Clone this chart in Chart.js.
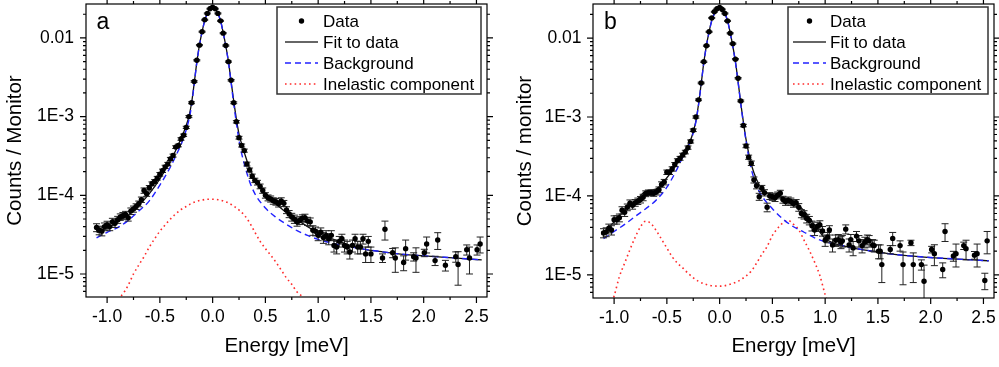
<!DOCTYPE html>
<html>
<head>
<meta charset="utf-8">
<script src="https://cdn.jsdelivr.net/npm/chart.js@4.4.1/dist/chart.umd.min.js"></script>
<style>
  html, body { margin: 0; padding: 0; background: #fff; }
  #wrap { position: relative; width: 999px; height: 367px; overflow: hidden; }
  canvas { position: absolute; top: 0; }
  #chartA { left: 0; }
  #chartB { left: 500px; }
</style>
</head>
<body>
<div id="wrap">
  <canvas id="chartA" width="500" height="367"></canvas>
  <canvas id="chartB" width="499" height="367"></canvas>
</div>
<script>
// axis ticks and labels
const xTicks = [-1.0, -0.5, 0.0, 0.5, 1.0, 1.5, 2.0, 2.5];
const xMinorTicks = [-0.75, -0.25, 0.25, 0.75, 1.25, 1.75, 2.25];
const yTicks = [1e-5, 1e-4, 1e-3, 1e-2];
const yTickLabels = ["1E-5", "1E-4", "1E-3", "0.01"];
const legendLabels = ["Data", "Fit to data", "Background", "Inelastic component"];

// panel a : measured points (energy in meV, counts / monitor, error)
const energyA = [
  -1.1,-1.075,-1.05,-1.025,-1.0,-0.975,-0.95,-0.925,-0.9,
  -0.875,-0.85,-0.825,-0.8,-0.775,-0.75,-0.725,-0.7,
  -0.675,-0.65,-0.625,-0.6,-0.575,-0.55,-0.525,-0.5,
  -0.475,-0.45,-0.425,-0.4,-0.375,-0.35,-0.325,-0.3,
  -0.275,-0.25,-0.225,-0.2,-0.175,-0.15,-0.125,-0.1,
  -0.075,-0.05,-0.025,0,0.025,0.05,0.075,0.1,
  0.125,0.15,0.175,0.2,0.225,0.25,0.275,0.3,
  0.325,0.35,0.375,0.4,0.425,0.45,0.475,0.5,
  0.525,0.55,0.575,0.6,0.625,0.65,0.675,0.7,
  0.725,0.75,0.775,0.8,0.825,0.85,0.875,0.9,
  0.925,0.95,0.975,1.0,1.025,1.05,1.075,1.1,
  1.125,1.15,1.175,1.2,1.225,1.25,1.275,1.3,
  1.325,1.35,1.375,1.4,1.425,1.45,1.475,1.5,
  1.61,1.633,1.706,1.731,1.81,1.829,1.905,1.927,2.006,2.028,
  2.108,2.133,2.206,2.304,2.326,2.408,2.434,2.506,2.535
];
const countsA = [
  3.9e-5,3.6e-5,3.5e-5,4.0e-5,4.2e-5,4.0e-5,4.6e-5,4.4e-5,4.9e-5,
  5.3e-5,5.5e-5,5.7e-5,5.2e-5,6.3e-5,6.7e-5,7.2e-5,7.8e-5,
  8.8e-5,1.15e-4,1.05e-4,1.25e-4,1.4e-4,1.5e-4,1.65e-4,1.85e-4,
  2.05e-4,2.3e-4,2.5e-4,2.9e-4,3.2e-4,4.1e-4,4.3e-4,5.2e-4,
  5.8e-4,7.3e-4,1.0e-3,1.5e-3,2.8e-3,5.2e-3,8.1e-3,1.2e-2,
  1.7e-2,2.05e-2,2.35e-2,2.45e-2,2.35e-2,2.05e-2,1.65e-2,1.15e-2,
  8.0e-3,5.0e-3,2.9e-3,1.5e-3,8.6e-4,5.4e-4,4.3e-4,3.7e-4,
  2.5e-4,2.1e-4,1.75e-4,1.55e-4,1.45e-4,1.3e-4,1.15e-4,1.0e-4,
  9.3e-5,9.0e-5,8.5e-5,8.3e-5,7.8e-5,8.5e-5,7.9e-5,6.5e-5,
  5.8e-5,5.3e-5,5.0e-5,4.6e-5,4.8e-5,5.1e-5,5.2e-5,4.7e-5,
  4.6e-5,3.6e-5,3.5e-5,3.1e-5,3.4e-5,2.9e-5,3.1e-5,2.8e-5,
  3.1e-5,2.3e-5,2.2e-5,2.6e-5,2.8e-5,2.3e-5,2.2e-5,1.9e-5,
  2.3e-5,2.8e-5,2.2e-5,2.2e-5,2.8e-5,1.8e-5,2.6e-5,1.8e-5,
  1.6e-5,3.7e-5,1.86e-5,1.6e-5,1.4e-5,2.1e-5,1.66e-5,1.6e-5,1.86e-5,2.4e-5,
  1.48e-5,2.7e-5,1.29e-5,1.66e-5,1.32e-5,2.04e-5,1.6e-5,2.04e-5,2.4e-5
];
const errA = [
  4.5e-6,4.5e-6,4.5e-6,4.5e-6,4.8e-6,4.5e-6,5e-6,5e-6,5e-6,
  5e-6,5.5e-6,5.5e-6,5e-6,6e-6,6e-6,6e-6,6.5e-6,
  7e-6,9e-6,8e-6,8e-6,8e-6,8e-6,9e-6,1e-5,
  1e-5,1.1e-5,1.2e-5,1.3e-5,1.4e-5,1.6e-5,1.7e-5,1.9e-5,
  2e-5,2.4e-5,3e-5,4e-5,6e-5,9e-5,1.3e-4,1.8e-4,
  2.5e-4,3e-4,3.2e-4,3.3e-4,3.2e-4,3e-4,2.5e-4,1.8e-4,
  1.3e-4,9e-5,6e-5,4e-5,3e-5,2.2e-5,1.9e-5,1.7e-5,
  1.4e-5,1.2e-5,1.1e-5,1e-5,1e-5,9e-6,9e-6,8e-6,
  8e-6,8e-6,8e-6,8e-6,7e-6,8e-6,7e-6,6.5e-6,
  6e-6,6e-6,6e-6,5.5e-6,5.5e-6,5.5e-6,5.5e-6,5.5e-6,
  5.5e-6,5e-6,4.5e-6,4.5e-6,4.5e-6,4.5e-6,4.5e-6,4.5e-6,
  4.5e-6,4e-6,4e-6,4e-6,4e-6,4e-6,4e-6,3.5e-6,
  4e-6,4e-6,4e-6,4e-6,4e-6,4e-6,4e-6,4e-6,
  2e-6,1e-5,2.5e-6,5.5e-6,3e-6,6e-6,2e-6,5.5e-6,2e-6,5.5e-6,
  2e-6,6.5e-6,2e-6,2.5e-6,6e-6,3e-6,6e-6,3e-6,5.5e-6
];

// panel b : measured points
const energyB = [
  -1.1,-1.075,-1.05,-1.025,-1.0,-0.975,-0.95,-0.925,-0.9,
  -0.875,-0.85,-0.825,-0.8,-0.775,-0.75,-0.725,-0.7,
  -0.675,-0.65,-0.625,-0.6,-0.575,-0.55,-0.525,-0.5,
  -0.475,-0.45,-0.425,-0.4,-0.375,-0.35,-0.325,-0.3,
  -0.275,-0.25,-0.225,-0.2,-0.175,-0.15,-0.125,-0.1,
  -0.075,-0.05,-0.025,0,0.025,0.05,0.075,0.1,
  0.125,0.15,0.175,0.2,0.225,0.25,0.275,0.3,
  0.325,0.35,0.375,0.4,0.425,0.45,0.475,0.5,
  0.525,0.55,0.575,0.6,0.625,0.65,0.675,0.7,
  0.725,0.75,0.775,0.8,0.825,0.85,0.875,0.9,
  0.925,0.95,0.975,1.0,
  1.025,1.04,1.07,1.1,1.125,1.15,1.163,1.195,1.227,1.243,1.265,
  1.297,1.32,1.35,1.376,1.4,1.417,1.45,1.465,1.506,1.522,1.537,
  1.617,1.64,1.71,1.738,1.813,1.835,1.912,1.937,2.009,2.035,
  2.114,2.136,2.215,2.24,2.313,2.335,2.415,2.44,2.513,2.535
];
const countsB = [
  3.4e-5,3.5e-5,3.9e-5,3.7e-5,5.0e-5,5.0e-5,5.3e-5,6.6e-5,6.2e-5,
  7.2e-5,8.1e-5,7.6e-5,8.2e-5,8.6e-5,9.0e-5,9.6e-5,1.07e-4,
  1.1e-4,1.1e-4,1.08e-4,1.12e-4,1.2e-4,1.4e-4,1.5e-4,2.0e-4,
  2.0e-4,2.2e-4,2.5e-4,2.8e-4,3.0e-4,3.3e-4,3.6e-4,4.1e-4,
  4.9e-4,6.8e-4,1.0e-3,1.65e-3,2.7e-3,5.0e-3,8.0e-3,1.2e-2,
  1.8e-2,2.15e-2,2.35e-2,2.45e-2,2.3e-2,2.05e-2,1.65e-2,1.15e-2,
  8.5e-3,5.4e-3,3.1e-3,1.6e-3,7.8e-4,4.3e-4,3.1e-4,2.6e-4,
  1.6e-4,1.35e-4,9.8e-5,1.25e-4,1.1e-4,7.2e-5,1.0e-4,9.8e-5,
  9.5e-5,1.02e-4,1.08e-4,9.0e-5,8.5e-5,8.8e-5,8.5e-5,8.0e-5,
  8.2e-5,7.2e-5,6.0e-5,5.8e-5,5.2e-5,4.9e-5,4.2e-5,3.7e-5,
  4.1e-5,4.3e-5,3.6e-5,2.75e-5,
  3.0e-5,3.7e-5,2.4e-5,2.75e-5,2.8e-5,2.6e-5,2.7e-5,3.8e-5,2.4e-5,2.8e-5,2.2e-5,
  3.1e-5,2.7e-5,2.35e-5,2.6e-5,2.8e-5,2.7e-5,2.4e-5,2.35e-5,2.0e-5,2.0e-5,1.35e-5,
  2.1e-5,2.9e-5,2.35e-5,1.35e-5,2.55e-5,1.35e-5,1.35e-5,8.3e-6,2.1e-5,1.86e-5,
  1.17e-5,3.55e-5,1.74e-5,1.86e-5,2.35e-5,2.15e-5,1.78e-5,1.86e-5,8.5e-6,2.7e-5
];
const errB = [
  4.5e-6,4.5e-6,5e-6,5e-6,6e-6,6e-6,6e-6,7e-6,7e-6,
  7e-6,8e-6,8e-6,8e-6,8e-6,8.5e-6,9e-6,9e-6,
  9e-6,9e-6,9e-6,9e-6,1e-5,1.1e-5,1.2e-5,1.3e-5,
  1.3e-5,1.4e-5,1.5e-5,1.6e-5,1.7e-5,1.8e-5,1.9e-5,2e-5,
  2.2e-5,2.6e-5,3.2e-5,4e-5,6e-5,9e-5,1.3e-4,1.8e-4,
  2.5e-4,3e-4,3.2e-4,3.3e-4,3.2e-4,3e-4,2.5e-4,1.8e-4,
  1.3e-4,9e-5,6e-5,4e-5,2.8e-5,2.2e-5,1.9e-5,1.7e-5,
  1.4e-5,1.2e-5,1e-5,1.1e-5,1e-5,9e-6,1e-5,1e-5,
  1e-5,1e-5,1e-5,9e-6,9e-6,9e-6,9e-6,8e-6,
  8e-6,8e-6,7e-6,7e-6,6.5e-6,6e-6,6e-6,5.5e-6,
  5.5e-6,5.5e-6,5e-6,4.5e-6,
  4.5e-6,5e-6,4.5e-6,4.5e-6,4.5e-6,4.5e-6,4.5e-6,5e-6,4.5e-6,4.5e-6,4.5e-6,
  4.5e-6,4.5e-6,4.5e-6,4e-6,4e-6,4.5e-6,4e-6,4e-6,4e-6,4e-6,5.5e-6,
  2.5e-6,5.5e-6,3.5e-6,6e-6,2e-6,5.5e-6,2e-6,5e-6,2e-6,5.5e-6,
  2.5e-6,9e-6,2.5e-6,6e-6,2.5e-6,6e-6,2e-6,6e-6,2e-6,8.5e-6
];

// fitted curves
const curveE = [-1.1,-1.0,-0.9,-0.8,-0.7,-0.6,-0.5,-0.4,-0.35,-0.3,-0.275,-0.25,-0.225,-0.2,-0.175,
  -0.15,-0.125,-0.1,-0.075,-0.05,-0.025,0,0.025,0.05,0.075,0.1,0.125,0.15,0.175,0.2,0.225,0.25,
  0.275,0.3,0.35,0.4,0.5,0.6,0.7,0.8,0.9,1.0,1.2,1.4,1.6,1.8,2.0,2.2,2.4,2.55];
const fitA = [3.39e-5,3.8e-5,4.57e-5,5.62e-5,7.41e-5,1.05e-4,1.62e-4,2.75e-4,3.72e-4,5.25e-4,6.3e-4,7.76e-4,1.0e-3,1.48e-3,2.63e-3,
  4.9e-3,8.1e-3,1.2e-2,1.66e-2,2.04e-2,2.32e-2,2.43e-2,2.32e-2,2.04e-2,1.66e-2,1.17e-2,7.9e-3,5.0e-3,2.8e-3,1.58e-3,9.3e-4,6.0e-4,
  4.5e-4,3.5e-4,2.2e-4,1.58e-4,1.05e-4,7.8e-5,6.0e-5,4.9e-5,4.0e-5,3.3e-5,2.6e-5,2.1e-5,1.92e-5,1.78e-5,1.7e-5,1.63e-5,1.56e-5,1.51e-5];
const bgA = [2.88e-5,3.39e-5,3.89e-5,4.79e-5,6.3e-5,8.5e-5,1.35e-4,2.29e-4,3.16e-4,4.37e-4,5.4e-4,6.8e-4,9.1e-4,1.38e-3,2.57e-3,
  4.85e-3,8.0e-3,1.19e-2,1.65e-2,2.03e-2,2.31e-2,2.42e-2,2.31e-2,2.03e-2,1.65e-2,1.16e-2,7.8e-3,4.9e-3,2.7e-3,1.45e-3,8.3e-4,5.0e-4,
  3.4e-4,2.5e-4,1.5e-4,1.05e-4,6.9e-5,5.25e-5,4.27e-5,3.55e-5,3.09e-5,2.75e-5,2.35e-5,2.1e-5,1.92e-5,1.78e-5,1.7e-5,1.63e-5,1.56e-5,1.51e-5];
const fitB = [3.4e-5,4.7e-5,6.6e-5,8.5e-5,1.15e-4,1.23e-4,1.7e-4,2.63e-4,3.4e-4,4.37e-4,5.1e-4,6.5e-4,8.9e-4,1.45e-3,2.63e-3,
  4.9e-3,8.1e-3,1.2e-2,1.66e-2,2.04e-2,2.32e-2,2.43e-2,2.32e-2,2.04e-2,1.66e-2,1.17e-2,7.9e-3,5.0e-3,2.8e-3,1.5e-3,8.7e-4,5.2e-4,
  3.5e-4,2.5e-4,1.62e-4,1.23e-4,1.02e-4,9.5e-5,8.5e-5,6.5e-5,4.3e-5,2.9e-5,2.29e-5,2.04e-5,1.86e-5,1.74e-5,1.66e-5,1.6e-5,1.55e-5,1.51e-5];
const bgB = [2.88e-5,3.55e-5,4.37e-5,5.5e-5,6.9e-5,8.9e-5,1.29e-4,2.24e-4,3.1e-4,4.17e-4,5.0e-4,6.3e-4,8.7e-4,1.41e-3,2.6e-3,
  4.85e-3,8.0e-3,1.19e-2,1.65e-2,2.03e-2,2.31e-2,2.42e-2,2.31e-2,2.03e-2,1.65e-2,1.16e-2,7.8e-3,4.9e-3,2.75e-3,1.48e-3,8.3e-4,5.0e-4,
  3.16e-4,2.19e-4,1.35e-4,1.0e-4,6.9e-5,5.1e-5,4.07e-5,3.47e-5,2.95e-5,2.63e-5,2.29e-5,2.04e-5,1.86e-5,1.74e-5,1.66e-5,1.6e-5,1.55e-5,1.51e-5];

const inelEA = [-0.9,-0.85,-0.8,-0.75,-0.7,-0.65,-0.6,-0.55,-0.5,-0.45,-0.4,-0.35,-0.3,-0.25,-0.2,-0.15,-0.1,-0.05,0,
  0.05,0.1,0.15,0.2,0.25,0.3,0.35,0.4,0.45,0.5,0.55,0.6,0.65,0.7,0.75,0.8,0.85,0.9];
const inelA = [4.8e-6,5.6e-6,7.2e-6,1.0e-5,1.3e-5,1.66e-5,2.2e-5,2.8e-5,3.5e-5,4.2e-5,5.0e-5,5.8e-5,6.6e-5,7.2e-5,7.9e-5,8.4e-5,8.7e-5,8.9e-5,8.9e-5,
  8.8e-5,8.5e-5,8.0e-5,7.3e-5,6.5e-5,5.6e-5,4.5e-5,3.4e-5,2.6e-5,2.1e-5,1.74e-5,1.41e-5,1.12e-5,8.9e-6,7.4e-6,5.9e-6,5.2e-6,4.6e-6];
const inelEB = [-1.05,-1.0,-0.95,-0.9,-0.85,-0.8,-0.75,-0.7,-0.65,-0.6,-0.55,-0.5,-0.45,-0.4,-0.35,-0.3,-0.2,-0.1,0,
  0.1,0.2,0.3,0.35,0.4,0.45,0.5,0.55,0.6,0.65,0.7,0.75,0.8,0.85,0.9,0.95,1.0,1.05];
const inelB = [3.5e-6,5.4e-6,9.5e-6,1.41e-5,2.09e-5,3.0e-5,4.07e-5,4.8e-5,4.47e-5,3.63e-5,2.82e-5,2.19e-5,1.7e-5,1.41e-5,1.23e-5,1.05e-5,8.3e-6,7.4e-6,7.2e-6,
  7.6e-6,8.7e-6,1.12e-5,1.41e-5,1.82e-5,2.29e-5,3.16e-5,3.89e-5,4.57e-5,4.9e-5,4.37e-5,3.72e-5,2.75e-5,2.04e-5,1.45e-5,9.8e-6,5.6e-6,3.5e-6];

const FONT = "'Liberation Sans', Arial, sans-serif";
Chart.defaults.font.family = FONT;
Chart.defaults.color = '#000';

const pts = (xs, ys) => xs.map((x, i) => ({ x, y: ys[i] }));

// y minor ticks 2..9 x decade
const yMinor = [];
for (let e = -6; e <= -2; e++) for (let m = 2; m <= 9; m++) yMinor.push(m * Math.pow(10, e));

const errorBars = {
  id: 'errorBars',
  beforeDatasetDraw(chart, args) {
    const ds = chart.data.datasets[args.index];
    if (!ds.errors) return;
    const { ctx, chartArea: a, scales: { x, y } } = chart;
    ctx.save();
    ctx.beginPath();
    ctx.rect(a.left, a.top, a.right - a.left, a.bottom - a.top);
    ctx.clip();
    ctx.strokeStyle = '#222';
    ctx.lineWidth = 1;
    ctx.beginPath();
    ds.data.forEach((p, i) => {
      const e = ds.errors[i];
      const px = x.getPixelForValue(p.x);
      const top = y.getPixelForValue(p.y + e);
      const lo = p.y - e;
      const bot = lo > 0 ? y.getPixelForValue(lo) : a.bottom + 5;
      ctx.moveTo(px, top); ctx.lineTo(px, bot);
      ctx.moveTo(px - 3.5, top); ctx.lineTo(px + 3.5, top);
      ctx.moveTo(px - 3.5, bot); ctx.lineTo(px + 3.5, bot);
    });
    ctx.stroke();
    ctx.restore();
  }
};

const frame = {
  id: 'frame',
  afterDraw(chart, args, opts) {
    const { ctx, chartArea: a, scales: { x, y } } = chart;
    ctx.save();
    ctx.strokeStyle = '#000';
    ctx.lineWidth = 1.2;
    ctx.strokeRect(a.left, a.top, a.right - a.left, a.bottom - a.top);
    ctx.beginPath();
    const xt = (v, len) => {
      const px = x.getPixelForValue(v);
      ctx.moveTo(px, a.bottom); ctx.lineTo(px, a.bottom + len);
      ctx.moveTo(px, a.top); ctx.lineTo(px, a.top - len);
    };
    const yt = (v, len) => {
      const py = y.getPixelForValue(v);
      if (py < a.top - 0.5 || py > a.bottom + 0.5) return;
      ctx.moveTo(a.left, py); ctx.lineTo(a.left - len, py);
      ctx.moveTo(a.right, py); ctx.lineTo(a.right + len, py);
    };
    xTicks.forEach(v => xt(v, 6));
    xMinorTicks.forEach(v => xt(v, 3));
    yTicks.forEach(v => yt(v, 6));
    yMinor.forEach(v => yt(v, 3));
    ctx.stroke();

    // panel letter
    ctx.fillStyle = '#000';
    ctx.font = '23px ' + FONT;
    ctx.textBaseline = 'alphabetic';
    ctx.textAlign = 'left';
    ctx.fillText(opts.letter, a.left + opts.letterX, 29);

    // legend box
    const bw = opts.boxW, bh = 87;
    const bx = a.right - 6 - bw, by = a.top + 3;
    ctx.fillStyle = '#fff';
    ctx.fillRect(bx, by, bw, bh);
    ctx.strokeStyle = '#333';
    ctx.lineWidth = 1.5;
    ctx.strokeRect(bx, by, bw, bh);
    const rows = [14, 35, 56, 77];
    const s0 = bx + opts.symStart, s1 = bx + opts.symEnd;
    ctx.font = '17px ' + FONT;
    ctx.textBaseline = 'middle';
    legendLabels.forEach((lab, i) => {
      ctx.fillStyle = '#000';
      ctx.fillText(lab, bx + opts.textX, by + rows[i] + 1);
    });
    // symbols
    ctx.fillStyle = '#000';
    ctx.beginPath();
    ctx.arc((s0 + s1) / 2, by + rows[0], 2.7, 0, Math.PI * 2);
    ctx.fill();
    const seg = (ry, color, w, dash) => {
      ctx.strokeStyle = color; ctx.lineWidth = w; ctx.setLineDash(dash);
      ctx.beginPath(); ctx.moveTo(s0, ry); ctx.lineTo(s1, ry); ctx.stroke();
    };
    seg(by + rows[1], '#333', 1.5, []);
    seg(by + rows[2], '#2222ff', 1.4, [6, 4]);
    seg(by + rows[3], '#ff2a2a', 1.6, [1.6, 3.2]);
    ctx.restore();
  }
};

function makeChart(id, cfg) {
  return new Chart(document.getElementById(id), {
    type: 'scatter',
    data: {
      datasets: [
        { label: 'Data', data: pts(cfg.energy, cfg.counts), errors: cfg.err,
          pointRadius: 2.7, pointBackgroundColor: '#000', pointBorderWidth: 0, showLine: false },
        { label: 'Background', data: pts(curveE, cfg.bg), showLine: true, borderColor: '#2222ff',
          borderWidth: 1.4, borderDash: [6, 4], pointRadius: 0, cubicInterpolationMode: 'monotone' },
        { label: 'Fit to data', data: pts(curveE, cfg.fit), showLine: true, borderColor: '#111',
          borderWidth: 1.3, pointRadius: 0, cubicInterpolationMode: 'monotone' },
        { label: 'Inelastic component', data: pts(cfg.inelE, cfg.inel), showLine: true, borderColor: '#ff2a2a',
          borderWidth: 1.6, borderDash: [1.6, 3.2], pointRadius: 0, cubicInterpolationMode: 'monotone' }
      ]
    },
    options: {
      responsive: false,
      animation: false,
      devicePixelRatio: 1,
      layout: { padding: { top: 3, right: cfg.padRight, left: 0, bottom: 0 } },
      plugins: {
        legend: { display: false },
        tooltip: { enabled: false },
        frame: cfg.frame
      },
      scales: {
        x: {
          type: 'linear', min: -1.2, max: 2.6,
          grid: { display: false, drawTicks: false },
          border: { display: false },
          afterBuildTicks: s => { s.ticks = xTicks.map(v => ({ value: v })); },
          afterFit: s => { s.height = cfg.xH; s.paddingLeft = 0; s.paddingRight = 0; },
          ticks: { padding: 10, autoSkip: false, maxRotation: 0, font: { size: 17.5 },
                   callback: v => v.toFixed(1) },
          title: { display: true, text: 'Energy [meV]', font: { size: 20.5 }, padding: { top: 0, bottom: 8.5 } }
        },
        y: {
          type: 'logarithmic', min: 5.1e-6, max: 0.027,
          grid: { display: false, drawTicks: false },
          border: { display: false },
          afterBuildTicks: s => { s.ticks = yTicks.map(v => ({ value: v })); },
          afterFit: s => { s.width = cfg.yW; s.paddingTop = 0; s.paddingBottom = 0; },
          ticks: { padding: cfg.yPad, autoSkip: false, font: { size: 17.5 },
                   callback: (v, i) => yTickLabels[i] },
          title: { display: true, text: cfg.yTitle, font: { size: 20.5 }, padding: { top: cfg.yTitlePad, bottom: 0 } }
        }
      }
    },
    plugins: [errorBars, frame]
  });
}

makeChart('chartA', {
  energy: energyA, counts: countsA, err: errA, fit: fitA, bg: bgA, inelE: inelEA, inel: inelA,
  padRight: 13, xH: 70, yW: 86, yPad: 12, yTitle: 'Counts / Monitor', yTitlePad: 3,
  frame: { letter: 'a', letterX: 10.5, boxW: 204, symStart: 8, symEnd: 41, textX: 46 }
});
makeChart('chartB', {
  energy: energyB, counts: countsB, err: errB, fit: fitB, bg: bgB, inelE: inelEB, inel: inelB,
  padRight: 5, xH: 69, yW: 93, yPad: 11.5, yTitle: 'Counts / monitor', yTitlePad: 13.5,
  frame: { letter: 'b', letterX: 11, boxW: 200, symStart: 5, symEnd: 38, textX: 42 }
});
</script>
</body>
</html>
